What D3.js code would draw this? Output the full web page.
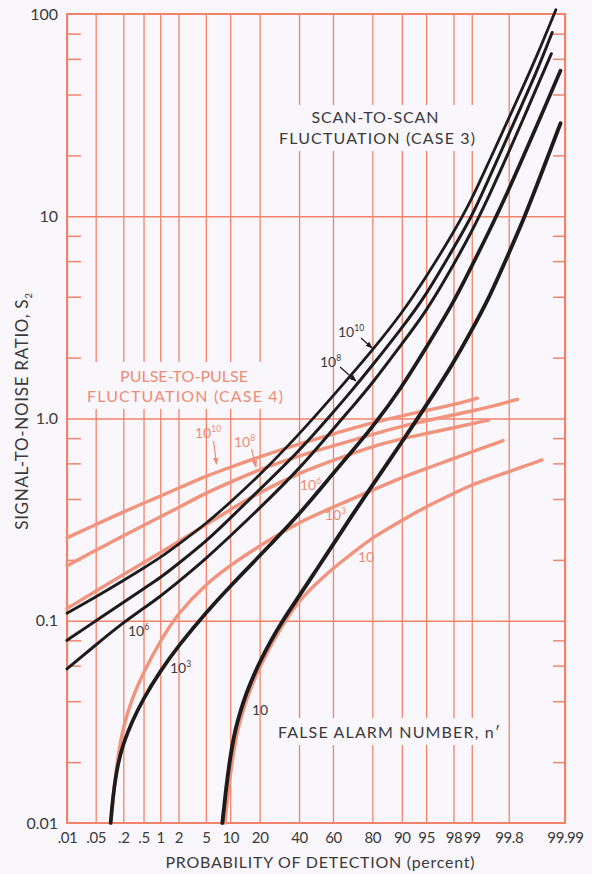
<!DOCTYPE html>
<html>
<head>
<meta charset="utf-8">
<script src="https://cdn.jsdelivr.net/npm/d3@7"></script>
<style>
    html, body { margin: 0; padding: 0; background: #f9f7fb; }
    svg { display: block; }
    text { font-family: Lato, "Open Sans", sans-serif; }
</style>
</head>
<body>
<svg id="chart" width="592" height="874"></svg>
<script>
// Probability of detection (percent) axis
const probTicks = [0.01, 0.05, 0.2, 0.5, 1, 2, 5, 10, 20, 40, 60, 80, 90, 95, 98, 99, 99.8, 99.99];
const probLabels = ['.01', '.05', '.2', '.5', '1', '2', '5', '10', '20', '40', '60', '80', '90', '95', '98', '99', '99.8', '99.99'];
const snrTicks = [0.01, 0.1, 1, 10, 100];
const snrLabels = ['0.01', '0.1', '1.0', '10', '100'];

// Scan-to-scan fluctuation (case 3): [P detection %, S2]
const scan10 = [[8.1, 0.01], [9, 0.0151], [10, 0.0211], [11, 0.0268], [12, 0.0316], [14, 0.0403], [16, 0.048], [20, 0.0626], [25, 0.0797], [30, 0.097], [40, 0.1324], [50, 0.177], [60, 0.2375], [70, 0.327], [80, 0.467], [90, 0.764], [95, 1.157], [98, 1.88], [99, 2.74], [99.5, 3.88], [99.8, 6.55], [99.9, 9.46], [99.95, 14.0], [99.97, 18.5], [99.987, 28.8]];
const scan1e3 = [[0.108, 0.01], [0.12, 0.0133], [0.15, 0.0192], [0.2, 0.0248], [0.3, 0.0318], [0.5, 0.0414], [1, 0.0564], [2, 0.0752], [5, 0.1096], [10, 0.1483], [20, 0.2093], [40, 0.334], [60, 0.534], [70, 0.68], [80, 0.903], [90, 1.424], [95, 2.24], [98, 3.73], [99, 5.68], [99.5, 8.27], [99.8, 13.5], [99.9, 19.5], [99.95, 27.7], [99.97, 35.5], [99.987, 52.5]];
const scan1e6 = [[0.01, 0.0578], [0.05, 0.0759], [0.2, 0.098], [0.5, 0.115], [1, 0.132], [2, 0.156], [5, 0.2025], [10, 0.262], [20, 0.36], [40, 0.561], [60, 0.883], [70, 1.124], [80, 1.49], [90, 2.34], [95, 3.37], [98, 5.74], [99, 8.4], [99.5, 12.4], [99.8, 20.7], [99.9, 30.0], [99.95, 42.8], [99.978, 63.6]];
const scan1e8 = [[0.01, 0.080], [0.05, 0.0998], [0.2, 0.123], [0.5, 0.144], [1, 0.163], [2, 0.192], [5, 0.246], [10, 0.321], [20, 0.446], [40, 0.688], [60, 1.07], [70, 1.36], [80, 1.83], [90, 2.80], [95, 4.07], [98, 6.96], [99, 9.94], [99.5, 15.2], [99.8, 25.4], [99.9, 36.5], [99.95, 51.3], [99.979, 81]];
const scan1e10 = [[0.01, 0.109], [0.05, 0.131], [0.2, 0.158], [0.5, 0.182], [1, 0.205], [2, 0.239], [5, 0.301], [10, 0.385], [20, 0.524], [40, 0.834], [60, 1.29], [80, 2.17], [90, 3.31], [95, 5.0], [98, 8.3], [99, 12.1], [99.5, 18.4], [99.8, 30.4], [99.9, 43.5], [99.95, 61], [99.983, 105]];

// Pulse-to-pulse fluctuation (case 4)
const pulse10 = [[8.7, 0.01], [9.6, 0.0151], [10.7, 0.0211], [11.7, 0.0268], [12.75, 0.0316], [14.9, 0.0403], [16.9, 0.048], [21.1, 0.0626], [26.2, 0.0797], [31.4, 0.097], [40, 0.126], [50, 0.152], [60, 0.182], [70, 0.213], [80, 0.258], [90, 0.3135], [95, 0.367], [98, 0.426], [99, 0.470], [99.5, 0.503], [99.8, 0.546], [99.9, 0.577], [99.963, 0.624]];
const pulse1e3 = [[0.11, 0.01], [0.13, 0.0157], [0.16, 0.0224], [0.2, 0.0299], [0.3, 0.0414], [0.5, 0.0558], [1, 0.0795], [2, 0.1097], [5, 0.152], [10, 0.188], [20, 0.235], [40, 0.308], [60, 0.364], [80, 0.442], [90, 0.511], [95, 0.565], [98, 0.634], [99, 0.684], [99.74, 0.777]];
const pulse1e6 = [[0.01, 0.115], [0.05, 0.14], [0.2, 0.169], [0.5, 0.194], [1, 0.217], [2, 0.246], [5, 0.298], [10, 0.354], [20, 0.432], [40, 0.538], [60, 0.62], [80, 0.73], [90, 0.794], [95, 0.842], [98, 0.9], [99.5, 0.981]];
const pulse1e8 = [[0.01, 0.187], [0.05, 0.223], [0.2, 0.263], [0.5, 0.296], [1, 0.326], [2, 0.363], [5, 0.428], [10, 0.484], [20, 0.56], [40, 0.655], [60, 0.732], [80, 0.834], [90, 0.918], [95, 0.974], [98, 1.042], [99, 1.09], [99.5, 1.137], [99.87, 1.243]];
const pulse1e10 = [[0.01, 0.257], [0.05, 0.299], [0.2, 0.345], [0.5, 0.381], [1, 0.413], [2, 0.452], [5, 0.519], [10, 0.574], [20, 0.647], [40, 0.75], [60, 0.838], [80, 0.953], [90, 1.031], [95, 1.095], [98, 1.17], [99.2, 1.26]];

const svg = d3.select('svg#chart');

const plotLeft = 67,
    plotRight = 565,
    plotTop = 14,
    plotBottom = 823;

const bgColor = '#f9f7fb',
    gridColor = '#f0846b',
    pinkColor = '#f1937d',
    pinkText = '#ef8b76',
    inkColor = '#1d1b1c',
    textColor = '#3b393a';

// normal probability scale: inverse normal CDF (Acklam)
function probit(p) {
    const a = [-3.969683028665376e+01, 2.209460984245205e+02, -2.759285104469687e+02, 1.383577518672690e+02, -3.066479806614716e+01, 2.506628277459239e+00];
    const b = [-5.447609879822406e+01, 1.615858368580409e+02, -1.556989798598866e+02, 6.680131188771972e+01, -1.328068155288572e+01];
    const c = [-7.784894002430293e-03, -3.223964580411365e-01, -2.400758277161838e+00, -2.549732539343734e+00, 4.374664141464968e+00, 2.938163982698783e+00];
    const d = [7.784695709041462e-03, 3.224671290700398e-01, 2.445134137142996e+00, 3.754408661907416e+00];
    const pLow = 0.02425;
    if (p < pLow) {
        const q = Math.sqrt(-2 * Math.log(p));
        return (((((c[0] * q + c[1]) * q + c[2]) * q + c[3]) * q + c[4]) * q + c[5]) / ((((d[0] * q + d[1]) * q + d[2]) * q + d[3]) * q + 1);
    }
    if (p <= 1 - pLow) {
        const q = p - 0.5, r = q * q;
        return (((((a[0] * r + a[1]) * r + a[2]) * r + a[3]) * r + a[4]) * r + a[5]) * q / (((((b[0] * r + b[1]) * r + b[2]) * r + b[3]) * r + b[4]) * r + 1);
    }
    const q = Math.sqrt(-2 * Math.log(1 - p));
    return -(((((c[0] * q + c[1]) * q + c[2]) * q + c[3]) * q + c[4]) * q + c[5]) / ((((d[0] * q + d[1]) * q + d[2]) * q + d[3]) * q + 1);
}

const zScale = d3.scaleLinear()
    .domain([probit(0.0001), probit(0.9999)])
    .range([plotLeft, plotRight]);
const x = p => zScale(probit(p / 100));
const y = d3.scaleLog().domain([0.01, 100]).range([plotBottom, plotTop]);

const minorTicks = [];
[0.01, 0.1, 1, 10].forEach(dec => [2, 4, 6, 8].forEach(m => minorTicks.push(dec * m)));

// vertical grid + probability labels
svg.append('g')
    .attr('transform', `translate(0,${plotBottom})`)
    .call(d3.axisBottom(zScale)
        .tickValues(probTicks.map(p => probit(p / 100)))
        .tickSize(-(plotBottom - plotTop))
        .tickPadding(9)
        .tickFormat((d, i) => probLabels[i]))
    .call(g => {
        g.select('.domain').remove();
        g.selectAll('line').attr('stroke', gridColor).attr('stroke-width', 1.3);
        g.selectAll('text').attr('fill', textColor).attr('font-size', 15).attr('letter-spacing', -0.4);
    });

// horizontal decade lines
svg.append('g')
    .attr('transform', `translate(${plotLeft},0)`)
    .call(d3.axisLeft(y).tickValues([0.1, 1, 10]).tickSize(-(plotRight - plotLeft)).tickFormat(''))
    .call(g => {
        g.select('.domain').remove();
        g.selectAll('line').attr('stroke', gridColor).attr('stroke-width', 1.5);
    });

// y labels
svg.append('g')
    .attr('transform', `translate(${plotLeft},0)`)
    .call(d3.axisLeft(y).tickValues(snrTicks).tickSize(0).tickPadding(9).tickFormat((d, i) => snrLabels[i]))
    .call(g => {
        g.select('.domain').remove();
        g.selectAll('text').attr('fill', textColor).attr('font-size', 16);
    });

// minor ticks inside both edges
svg.append('g')
    .attr('transform', `translate(${plotLeft},0)`)
    .call(d3.axisLeft(y).tickValues(minorTicks).tickSize(-14).tickFormat(''))
    .call(g => {
        g.select('.domain').remove();
        g.selectAll('line').attr('stroke', gridColor).attr('stroke-width', 1.5);
    });
svg.append('g')
    .attr('transform', `translate(${plotRight},0)`)
    .call(d3.axisRight(y).tickValues(minorTicks).tickSize(-12).tickFormat(''))
    .call(g => {
        g.select('.domain').remove();
        g.selectAll('line').attr('stroke', gridColor).attr('stroke-width', 1.5);
    });

// blank boxes behind the captions
[[272, 105, 209, 46], [83, 362, 206, 47], [272, 718, 232, 27]].forEach(b => {
    svg.append('rect')
        .attr('x', b[0]).attr('y', b[1]).attr('width', b[2]).attr('height', b[3])
        .attr('fill', bgColor);
});

// frame
svg.append('rect')
    .attr('x', plotLeft).attr('y', plotTop)
    .attr('width', plotRight - plotLeft).attr('height', plotBottom - plotTop)
    .attr('fill', 'none').attr('stroke', gridColor).attr('stroke-width', 2);

function caption(text, cx, baseline, color, width) {
    svg.append('text')
        .text(text)
        .attr('x', cx).attr('y', baseline)
        .attr('text-anchor', 'middle')
        .attr('font-size', 16)
        .attr('fill', color)
        .attr('textLength', width)
        .attr('lengthAdjust', 'spacing');
}

caption('SCAN-TO-SCAN', 375, 123, textColor, 127);
caption('FLUCTUATION (CASE 3)', 377, 143.5, textColor, 196);
caption('PULSE-TO-PULSE', 184, 382, pinkText, 128);
caption('FLUCTUATION (CASE 4)', 185, 402, pinkText, 196);
caption('FALSE ALARM NUMBER, n\u2032', 389, 738, textColor, 222);
caption('PROBABILITY OF DETECTION (percent)', 320, 868, textColor, 309);

// y axis title
const yTitle = svg.append('text')
    .attr('transform', 'translate(28,411) rotate(-90)')
    .attr('text-anchor', 'middle')
    .attr('font-size', 17)
    .attr('letter-spacing', 0.7)
    .attr('fill', textColor);
yTitle.append('tspan').text('SIGNAL-TO-NOISE RATIO, S');
yTitle.append('tspan').text('2').attr('font-size', 10).attr('dy', 4);

// curves
const line = d3.line()
    .x(d => x(d[0]))
    .y(d => y(d[1]))
    .curve(d3.curveBasis);

const pulseCurves = [pulse10, pulse1e3, pulse1e6, pulse1e8, pulse1e10];
pulseCurves.forEach(c => {
    svg.append('path')
        .attr('d', line(c))
        .attr('fill', 'none')
        .attr('stroke', pinkColor)
        .attr('stroke-width', 3.4)
        .attr('stroke-linecap', 'round');
});

const scanCurves = [[scan10, 3.9], [scan1e3, 3.7], [scan1e6, 3.0], [scan1e8, 3.0], [scan1e10, 2.8]];
scanCurves.forEach(c => {
    svg.append('path')
        .attr('d', line(c[0]))
        .attr('fill', 'none')
        .attr('stroke', inkColor)
        .attr('stroke-width', c[1])
        .attr('stroke-linecap', 'round');
});

// false alarm number labels
function powerLabel(px, baseline, exp, color) {
    const t = svg.append('text')
        .attr('x', px).attr('y', baseline)
        .attr('font-size', 14)
        .attr('fill', color);
    t.append('tspan').text('10');
    if (exp) t.append('tspan').text(exp).attr('font-size', 8.5).attr('dy', -6);
}

powerLabel(338, 337, '10', textColor);
powerLabel(320, 367, '8', textColor);
powerLabel(128, 636, '6', textColor);
powerLabel(170, 673, '3', textColor);
powerLabel(252, 715, '', textColor);

powerLabel(195, 438, '10', pinkText);
powerLabel(234, 447, '8', pinkText);
powerLabel(300, 490, '6', pinkText);
powerLabel(325, 520, '3', pinkText);
powerLabel(358, 562, '', pinkText);

// pointers
const defs = svg.append('defs');
[['headInk', inkColor], ['headPink', pinkText]].forEach(m => {
    defs.append('marker')
        .attr('id', m[0])
        .attr('viewBox', '0 0 8 8')
        .attr('refX', 7).attr('refY', 4)
        .attr('markerWidth', 6).attr('markerHeight', 6)
        .attr('orient', 'auto')
        .append('path')
        .attr('d', 'M0,1 L8,4 L0,7 z')
        .attr('fill', m[1]);
});

[[361, 338, 372, 348, inkColor, 'headInk'],
 [340, 367, 356, 381, inkColor, 'headInk'],
 [213.5, 441, 216.5, 464, pinkText, 'headPink'],
 [251.5, 449, 256, 467, pinkText, 'headPink']].forEach(p => {
    svg.append('line')
        .attr('x1', p[0]).attr('y1', p[1])
        .attr('x2', p[2]).attr('y2', p[3])
        .attr('stroke', p[4])
        .attr('stroke-width', 1.2)
        .attr('marker-end', `url(#${p[5]})`);
});
</script>
</body>
</html>
